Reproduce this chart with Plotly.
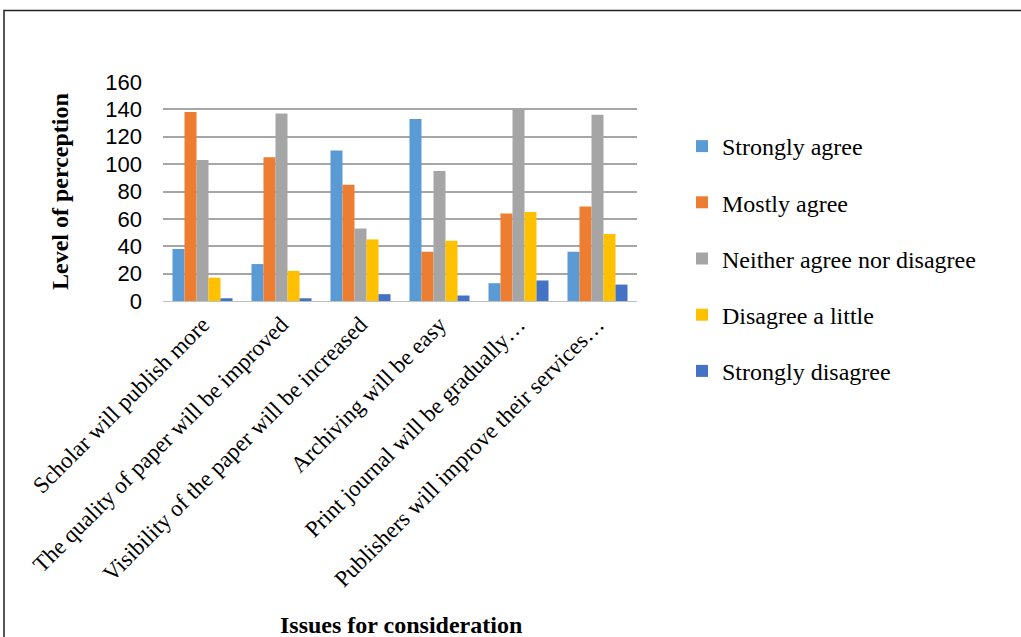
import plotly.graph_objects as go

categories = [
    "Scholar will publish more",
    "The quality of paper will be improved",
    "Visibility of the paper will be increased",
    "Archiving will be easy",
    "Print journal will be gradually…",
    "Publishers will improve their services…",
]
series_names = ["Strongly agree", "Mostly agree", "Neither agree nor disagree",
                "Disagree a little", "Strongly disagree"]
strongly_agree = [38, 27, 110, 133, 13, 36]
mostly_agree = [138, 105, 85, 36, 64, 69]
neither = [103, 137, 53, 95, 140, 136]
disagree_little = [17, 22, 45, 44, 65, 49]
strongly_disagree = [2, 2, 5, 4, 15, 12]
colors = ["#5B9BD5", "#ED7D31", "#A5A5A5", "#FFC000", "#4472C4"]
y_ticks = [0, 20, 40, 60, 80, 100, 120, 140, 160]

values = [strongly_agree, mostly_agree, neither, disagree_little, strongly_disagree]

W, H = 1021, 637
L, R, T, B = 163, 637, 82, 301

fig = go.Figure()
for i, (name, vals, col) in enumerate(zip(series_names, values, colors)):
    fig.add_trace(go.Bar(x=categories, y=vals, name=name, marker_color=col,
                         marker_line_width=0, legendgroup=f"g{i}"))

serif = "Liberation Serif"
fig.update_layout(
    width=W, height=H,
    margin=dict(l=L, r=W - R, t=T, b=H - B, autoexpand=False),
    paper_bgcolor="white", plot_bgcolor="white",
    barmode="group", bargap=0.24, bargroupgap=0,
    showlegend=True,
    legend=dict(x=(682 - L) / (R - L), xanchor="left",
                y=(B - 124) / (B - T), yanchor="top",
                font=dict(family=serif, size=24, color="#000"),
                tracegroupgap=22, traceorder="grouped",
                itemwidth=30, bgcolor="rgba(0,0,0,0)", maxheight=600),
    xaxis=dict(tickangle=-45, tickfont=dict(family=serif, size=23, color="#000"),
               showgrid=False, showline=True, linecolor="#BFBFBF", linewidth=1,
               ticks=""),
    yaxis=dict(range=[0, 160], tickvals=y_ticks,
               tickfont=dict(family="Liberation Sans", size=22, color="#000"),
               showgrid=True, gridcolor="#A6A6A6", gridwidth=1.5,
               zeroline=False, showline=False, ticklabelstandoff=20),
    annotations=[
        dict(text="<b>Level of perception</b>", xref="paper", yref="paper",
             x=(60 - L) / (R - L), y=(B - 192) / (B - T), textangle=-90,
             showarrow=False, font=dict(family=serif, size=24, color="#000"),
             xanchor="center", yanchor="middle"),
        dict(text="<b>Issues for consideration</b>", xref="paper", yref="paper",
             x=(401 - L) / (R - L), y=(B - 625) / (B - T),
             showarrow=False, font=dict(family=serif, size=24, color="#000"),
             xanchor="center", yanchor="middle"),
    ],
    shapes=[
        dict(type="rect", xref="paper", yref="paper",
             x0=(4 - L) / (R - L), x1=(1100 - L) / (R - L),
             y0=(B - 700) / (B - T), y1=(B - 10.5) / (B - T),
             line=dict(color="#222", width=1.5), fillcolor="rgba(0,0,0,0)",
             layer="below"),
    ],
)

fig.write_html("out.html", config={"displayModeBar": False},
               post_script="document.body.style.margin='0';document.body.style.overflow='hidden';")
